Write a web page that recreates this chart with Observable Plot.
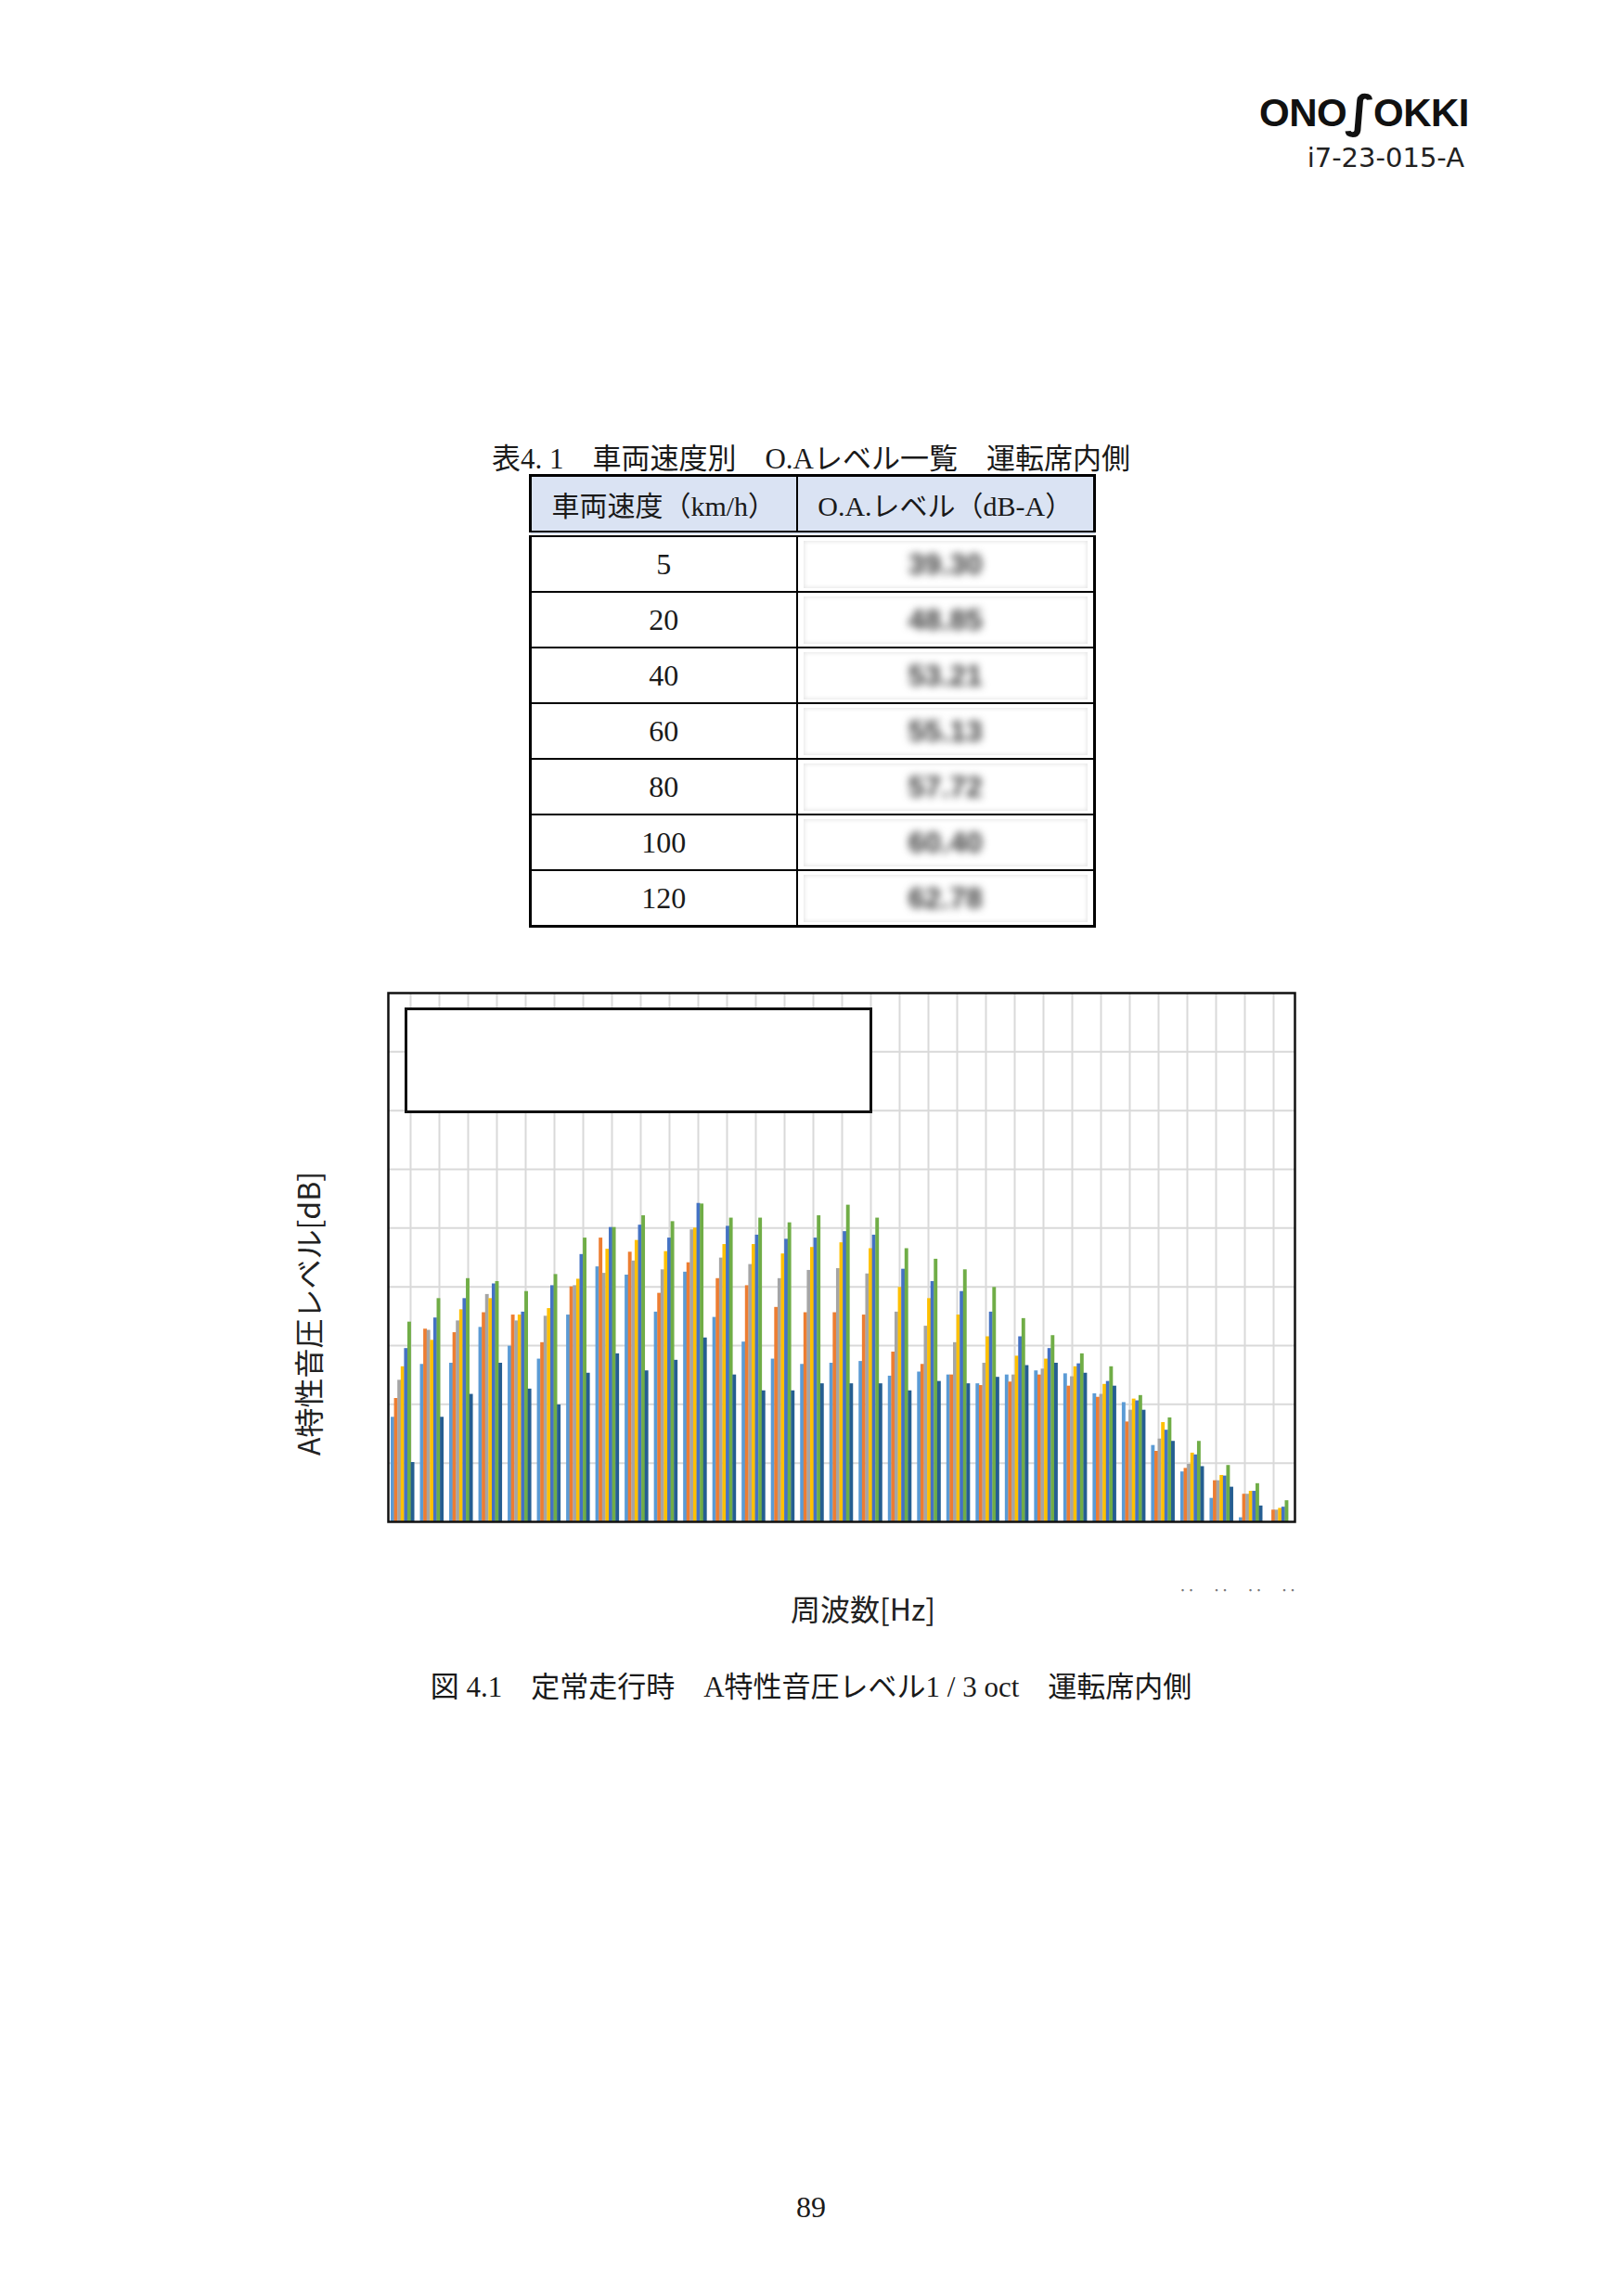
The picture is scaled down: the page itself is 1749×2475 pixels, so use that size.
<!DOCTYPE html>
<html><head><meta charset="utf-8">
<script src="https://cdn.jsdelivr.net/npm/d3@7"></script>
<script src="https://cdn.jsdelivr.net/npm/@observablehq/plot@0.6"></script>
<style>
body{margin:0;background:#fff;}
#page{position:relative;width:1749px;height:2475px;background:#fff;overflow:hidden;font-family:"Liberation Serif","Noto Sans CJK JP",serif;color:#1a1a1a;}
.abs{position:absolute;white-space:nowrap;}
.ctr{transform:translate(-50%,-50%);}
#logo{right:166px;top:95px;font-family:"Liberation Sans","DejaVu Sans",sans-serif;font-weight:bold;font-size:42px;letter-spacing:-0.5px;color:#111;line-height:1;}
#logo .s{font-family:"DejaVu Sans",sans-serif;font-weight:bold;font-size:48px;display:inline-block;transform:translateY(1px) scaleX(1.15);margin:0 0px;}
#docno{right:171px;top:153px;font-family:"DejaVu Sans",sans-serif;font-size:29px;color:#222;}
#tbltitle{left:874px;top:491px;font-size:31px;}
table.oa{position:absolute;left:570px;top:511px;width:608px;border-collapse:collapse;border:3px solid #000;table-layout:fixed;}
table.oa th{height:58px;background:#dae3f3;border:2px solid #000;border-bottom:7px double #000;font-weight:normal;font-size:30px;padding:0;}
table.oa td{height:58px;border:2px solid #000;font-size:32px;text-align:center;padding:0;}
.blurbox{margin:3px 6px;height:51px;box-shadow:inset 0 0 4px 1px #e6e6e6;display:flex;align-items:center;justify-content:center;}
.blurtxt{filter:blur(4.5px);color:#3a3a3a;font-weight:bold;font-size:32px;font-family:"Liberation Sans",sans-serif;}
#chart{position:absolute;left:400px;top:1060px;width:1010px;height:600px;}
#chart svg{position:absolute;left:0;top:0;}
#legendbox{position:absolute;left:36px;top:26px;width:498px;height:108px;border:3px solid #111;background:#fff;}
#ylabel{left:331px;top:1416px;transform:translate(-50%,-50%) rotate(-90deg);font-family:"Noto Sans CJK JP",sans-serif;font-size:32px;color:#222;}
#xlabel{left:930px;top:1733px;font-family:"Noto Sans CJK JP",sans-serif;font-size:32px;color:#222;}
#dots{left:1270px;top:1700px;font-size:18px;color:#777;letter-spacing:7px;}
#caption{left:874px;top:1815px;font-size:31px;}
#pagenum{left:874px;top:2379px;font-size:32px;}
</style></head><body><div id="page">
<div id="logo" class="abs">ONO<span class="s">∫</span>OKKI</div>
<div id="docno" class="abs">i7-23-015-A</div>
<div id="tbltitle" class="abs ctr">表4. 1　車両速度別　O.Aレベル一覧　運転席内側</div>
<div id="tablehost"></div>
<div id="chart"></div>
<div id="ylabel" class="abs">A特性音圧レベル[dB]</div>
<div id="xlabel" class="abs ctr">周波数[Hz]</div>
<div id="dots" class="abs">‥ ‥ ‥ ‥</div>
<div id="caption" class="abs ctr">図 4.1　定常走行時　A特性音圧レベル1 / 3 oct　運転席内側</div>
<div id="pagenum" class="abs ctr">89</div>
</div>
<script>
// ---- table data ----
const speeds = ["5", "20", "40", "60", "80", "100", "120"];
const oaLevels = ["39.30", "48.85", "53.21", "55.13", "57.72", "60.40", "62.78"];

// ---- chart data (1/3 octave bands) ----
const freqBands = ["20","25","31.5","40","50","63","80","100","125","160","200","250","315","400","500","630","800","1k","1.25k","1.6k","2k","2.5k","3.15k","4k","5k","6.3k","8k","10k","12.5k","16k","20k"];
const seriesKeys = ["20km/h","40km/h","60km/h","80km/h","100km/h","120km/h","5km/h"];
const seriesColors = ["#5B9BD5","#ED7D31","#A5A5A5","#FFC000","#4472C4","#70AD47","#255E91"];
const yGrid = [10, 20, 30, 40, 50, 60, 70, 80];
const yMax = 90;

const lv20  = [17.8,26.8,27.0,33.1,29.9,27.7,35.2,43.4,42.0,35.7,42.5,34.8,30.6,27.7,26.8,27.0,27.3,24.8,25.5,25.0,23.5,25.0,25.7,25.2,21.8,20.3,13.0,8.5,4.0,0.7,0.0];
const lv40  = [21.0,32.8,32.2,35.6,35.2,30.5,40.0,48.3,45.9,38.9,44.1,41.4,40.2,36.5,35.6,35.6,35.2,28.9,26.8,25.0,23.2,23.8,25.0,23.1,21.2,17.0,12.0,9.1,7.0,4.7,2.0];
const lv60  = [24.1,32.6,34.2,38.7,34.2,35.0,40.2,42.3,44.4,42.9,49.7,44.9,43.8,41.4,42.8,43.1,42.2,35.7,33.3,30.5,27.0,25.0,26.0,24.7,21.7,19.0,14.1,9.8,7.0,4.7,2.0];
const lv80  = [26.4,30.9,36.1,38.0,35.2,36.3,41.3,46.4,47.9,46.0,50.0,47.2,47.2,45.6,46.7,47.5,46.5,39.9,38.0,35.2,31.5,28.2,27.7,26.4,23.4,20.9,16.9,11.7,7.9,5.2,2.3];
const lv100 = [29.5,34.7,38.0,40.5,35.7,40.2,45.5,50.1,50.5,48.3,54.2,50.3,48.8,48.1,48.3,49.4,48.8,43.0,40.9,39.2,35.7,31.5,29.5,26.9,23.9,20.6,15.6,11.4,7.8,5.2,2.5];
const lv120 = [34.0,38.0,41.4,40.9,39.2,42.1,48.3,50.1,52.1,51.1,54.1,51.7,51.7,50.9,52.1,53.9,51.7,46.5,44.7,42.9,39.9,34.6,31.7,28.6,26.4,21.5,17.7,13.7,9.6,6.5,3.6];
const lv5   = [10.1,17.8,21.7,27.0,22.6,19.9,25.3,28.6,25.7,27.5,31.3,25.0,22.3,22.3,23.5,23.5,23.5,22.3,23.9,23.5,24.6,26.6,27.0,25.3,23.1,19.0,13.7,9.4,5.9,2.7,0.0];

// ---- build table ----
(function(){
  const t = document.createElement("table");
  t.className = "oa";
  t.innerHTML = `<colgroup><col style="width:287px"><col style="width:321px"></colgroup>
    <tr><th>車両速度（km/h）</th><th>O.A.レベル（dB-A）</th></tr>` +
    speeds.map((s, i) => `<tr><td>${s}</td><td><div class="blurbox"><span class="blurtxt">${oaLevels[i]}</span></div></td></tr>`).join("");
  document.getElementById("tablehost").appendChild(t);
})();

// ---- chart ----
const seriesValues = [lv20, lv40, lv60, lv80, lv100, lv120, lv5];
const rows = [];
freqBands.forEach((f, i) => seriesKeys.forEach((k, j) => rows.push({freq: f, series: k, value: seriesValues[j][i]})));

const dims = {width: 1010, height: 600, marginLeft: 18, marginRight: 15, marginTop: 10, marginBottom: 20};
const chart = document.getElementById("chart");

// layer 1: grid
const gridPlot = Plot.plot({
  ...dims,
  style: {background: "transparent", overflow: "visible"},
  x: {type: "point", domain: freqBands, padding: 0.5, axis: null},
  y: {domain: [0, yMax], axis: null},
  marks: [
    Plot.ruleY(yGrid, {y: d => d, stroke: "#d9d9d9", strokeWidth: 2}),
    Plot.ruleX(freqBands, {x: d => d, stroke: "#d9d9d9", strokeWidth: 2})
  ]
});
chart.appendChild(gridPlot);

// layer 2: bars, faceted by band
const barPlot = Plot.plot({
  ...dims,
  style: {background: "transparent", overflow: "visible"},
  facet: {data: rows, x: "freq"},
  fx: {domain: freqBands, paddingInner: 0.2, paddingOuter: 0.1, round: false, axis: null, label: null},
  x: {domain: seriesKeys, padding: 0, round: false, axis: null},
  y: {domain: [0, yMax], axis: null},
  color: {domain: seriesKeys, range: seriesColors},
  marks: [
    Plot.barY(rows, {x: "series", y: "value", fill: "series", insetLeft: -0.15, insetRight: -0.15})
  ]
});
chart.appendChild(barPlot);

// layer 3: plot-area frame
const framePlot = Plot.plot({
  ...dims,
  style: {background: "transparent", overflow: "visible"},
  x: {domain: [0, 1], axis: null},
  y: {domain: [0, yMax], axis: null},
  marks: [Plot.frame({stroke: "#111", strokeWidth: 2.5})]
});
chart.appendChild(framePlot);

// empty legend box
const lb = document.createElement("div");
lb.id = "legendbox";
chart.appendChild(lb);
</script>
</body></html>
